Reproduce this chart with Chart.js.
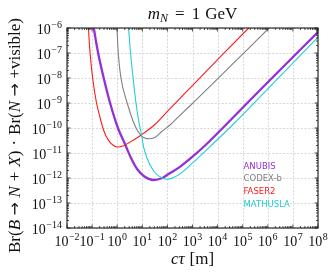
<!DOCTYPE html>
<html>
<head>
<meta charset="utf-8">
<script src="https://cdn.jsdelivr.net/npm/chart.js@4.4.1/dist/chart.umd.min.js"></script>
<style>
  html, body { margin: 0; padding: 0; background: #fff; }
  #wrap { width: 336px; height: 276px; }
</style>
</head>
<body>
<div id="wrap"><canvas id="chart" width="336" height="276"></canvas></div>
<script>
// Axis decades (tick labels are 10^n)
const xDecades = [-2, -1, 0, 1, 2, 3, 4, 5, 6, 7, 8];
const yDecades = [-14, -13, -12, -11, -10, -9, -8, -7, -6];

// Series: c*tau [m] and Br product
const anubisCt = [0.11, 0.117, 0.174, 0.29, 0.52, 1.07, 2.0, 3.55, 6.3, 12.6, 28.2, 63, 100, 316, 1000, 3160, 3.16e4, 1e6, 1e8];
const anubisBr = [1.6e-6, 1e-6, 1e-7, 1e-8, 1e-9, 1e-10, 2.4e-11, 6.3e-12, 2.24e-12, 1.12e-12, 8.3e-13, 1.0e-12, 1.35e-12, 2.8e-12, 7.1e-12, 2.0e-11, 2.0e-10, 6.8e-9, 6.9e-7];

const codexCt = [0.955, 0.98, 1.1, 1.41, 2.5, 4.2, 6.0, 8.9, 12.6, 18.6, 31.6, 63, 132, 316, 760, 1e4, 1e5, 1.12e6, 2.0e6];
const codexBr = [1.6e-6, 1e-6, 1e-7, 1e-8, 1e-9, 2.0e-10, 8.9e-11, 5.0e-11, 4.0e-11, 3.7e-11, 4.2e-11, 7.6e-11, 1.35e-10, 3.2e-10, 7.4e-10, 9.3e-9, 9.1e-8, 1e-6, 1.8e-6];

const faserCt = [0.068, 0.071, 0.083, 0.105, 0.15, 0.21, 0.27, 0.35, 0.5, 0.71, 1.0, 1.78, 3.16, 5.6, 10, 31.6, 100, 1000, 1e4, 1.74e5, 3.16e5];
const faserBr = [1.6e-6, 1e-6, 1e-7, 1e-8, 1e-9, 2.5e-10, 1e-10, 5.0e-11, 2.8e-11, 2.0e-11, 1.74e-11, 1.95e-11, 2.7e-11, 3.8e-11, 5.6e-11, 1.38e-10, 4.6e-10, 5.0e-9, 5.4e-8, 1e-6, 1.8e-6];

const mathuslaCt = [2.63, 2.82, 3.4, 4.3, 5.6, 7.6, 9.3, 11.2, 15.5, 22.4, 31.6, 52.5, 93, 178, 331, 1000, 3160, 4.0e4, 1e6, 1e8];
const mathuslaBr = [1.6e-6, 1e-6, 1e-7, 1e-8, 1e-9, 1.4e-10, 5.4e-11, 1.8e-11, 6.3e-12, 2.8e-12, 1.66e-12, 1.1e-12, 8.9e-13, 1.05e-12, 1.5e-12, 4.0e-12, 1.17e-11, 1.35e-10, 3.7e-9, 4.3e-7];

const seriesNames = ['ANUBIS', 'CODEX-b', 'FASER2', 'MATHUSLA'];
const seriesColors = ['#9431d4', '#808080', '#ff1a1a', '#1fd0d3'];

const SERIF = '"Liberation Serif", "DejaVu Serif", serif';

function toPoints(xs, ys) {
    return xs.map((x, i) => ({ x: x, y: ys[i] }));
}

function fontOf(size, italic, family) {
    return (italic ? 'italic ' : '') + size + 'px ' + (family || SERIF);
}

// draw a row of text pieces centred on x (pieces may be italic / shifted)
function drawRuns(ctx, runs, x, y) {
    let w = 0;
    runs.forEach(r => {
        ctx.font = fontOf(r.s || 17, r.i, r.f);
        r.w = ctx.measureText(r.t).width;
        w += r.w + (r.gap || 0);
    });
    let cx = x - w / 2;
    ctx.textAlign = 'left';
    ctx.textBaseline = 'alphabetic';
    runs.forEach(r => {
        ctx.font = fontOf(r.s || 17, r.i, r.f);
        ctx.fillText(r.t, cx, y + (r.dy || 0));
        cx += r.w + (r.gap || 0);
    });
}

function expText(n) {
    return n < 0 ? '\u2212' + Math.abs(n) : String(n);
}

// "10^n" tick label
function drawPow(ctx, n, x, y, align) {
    ctx.textBaseline = 'alphabetic';
    ctx.textAlign = 'left';
    ctx.font = fontOf(14, false);
    const wb = ctx.measureText('10').width;
    ctx.font = fontOf(10, false);
    const e = expText(n);
    const we = ctx.measureText(e).width;
    const total = wb + we + 0.5;
    const x0 = align === 'right' ? x - total : x - total / 2;
    ctx.font = fontOf(14, false);
    ctx.fillText('10', x0, y);
    ctx.font = fontOf(10, false);
    ctx.fillText(e, x0 + wb + 0.5, y - 6);
}

const ARROW = '"DejaVu Sans", sans-serif';

const framePlugin = {
    id: 'frame',
    beforeDatasetsDraw(chart) {
        const { ctx, chartArea: a, scales } = chart;
        ctx.save();
        ctx.strokeStyle = '#cdcdcd';
        ctx.lineWidth = 0.8;
        ctx.setLineDash([2, 1.6]);
        ctx.beginPath();
        xDecades.forEach(d => {
            const px = Math.round(scales.x.getPixelForValue(Math.pow(10, d))) + 0.5;
            ctx.moveTo(px, a.top); ctx.lineTo(px, a.bottom);
        });
        yDecades.forEach(d => {
            const py = Math.round(scales.y.getPixelForValue(Math.pow(10, d))) + 0.5;
            ctx.moveTo(a.left, py); ctx.lineTo(a.right, py);
        });
        ctx.stroke();
        ctx.restore();
    },
    afterDatasetsDraw(chart) {
        const { ctx, chartArea: a, scales } = chart;
        ctx.save();
        ctx.strokeStyle = '#222';
        ctx.lineWidth = 0.8;
        ctx.beginPath();
        const tickX = (v, len) => {
            const px = scales.x.getPixelForValue(v);
            ctx.moveTo(px, a.bottom); ctx.lineTo(px, a.bottom - len);
            ctx.moveTo(px, a.top); ctx.lineTo(px, a.top + len);
        };
        const tickY = (v, len) => {
            const py = scales.y.getPixelForValue(v);
            ctx.moveTo(a.left, py); ctx.lineTo(a.left + len, py);
            ctx.moveTo(a.right, py); ctx.lineTo(a.right - len, py);
        };
        xDecades.forEach((d, i) => {
            tickX(Math.pow(10, d), 3.5);
            if (i < xDecades.length - 1) {
                for (let k = 2; k < 10; k++) tickX(k * Math.pow(10, d), 2);
            }
        });
        yDecades.forEach((d, i) => {
            tickY(Math.pow(10, d), 3.5);
            if (i < yDecades.length - 1) {
                for (let k = 2; k < 10; k++) tickY(k * Math.pow(10, d), 2);
            }
        });
        ctx.stroke();

        ctx.lineWidth = 1.1;
        ctx.strokeStyle = '#1a1a1a';
        ctx.strokeRect(a.left, a.top, a.right - a.left, a.bottom - a.top);

        // tick labels
        ctx.fillStyle = '#111';
        xDecades.forEach(d => {
            drawPow(ctx, d, scales.x.getPixelForValue(Math.pow(10, d)), a.bottom + 18, 'center');
        });
        yDecades.forEach(d => {
            drawPow(ctx, d, a.left - 5, scales.y.getPixelForValue(Math.pow(10, d)) + 5.5, 'right');
        });

        // title
        const cx = (a.left + a.right) / 2;
        drawRuns(ctx, [
            { t: 'm', i: true },
            { t: 'N', i: true, s: 12, dy: 3, gap: 7 },
            { t: '=', gap: 7 },
            { t: '1', gap: 5 },
            { t: 'GeV' }
        ], cx, 18.5);

        // x label
        drawRuns(ctx, [
            { t: 'c', i: true },
            { t: '\u03c4', i: true, gap: 5 },
            { t: '[m]' }
        ], cx, 264);

        // y label
        ctx.save();
        ctx.translate(20, 135.5);
        ctx.rotate(-Math.PI / 2);
        drawRuns(ctx, [
            { t: 'Br(' },
            { t: 'B', i: true, gap: 4.5 },
            { t: '\u2192', f: ARROW, s: 16, dy: -0.5, gap: 4.5 },
            { t: 'N', i: true, gap: 5 },
            { t: '+', gap: 5 },
            { t: 'X', i: true },
            { t: ')', gap: 5 },
            { t: '\u00b7', gap: 5 },
            { t: 'Br(' },
            { t: 'N', i: true, gap: 4.5 },
            { t: '\u2192', f: ARROW, s: 16, dy: -0.5, gap: 4.5 },
            { t: '+visible)' }
        ], 0, 0);
        ctx.restore();

        // legend: coloured names only
        ctx.font = '8.5px "DejaVu Sans", sans-serif';
        ctx.textAlign = 'left';
        ctx.textBaseline = 'alphabetic';
        chart.data.datasets.forEach((ds, i) => {
            ctx.fillStyle = ds.borderColor;
            ctx.fillText(ds.label, a.right - 74.5, a.bottom - 59.5 + i * 12.7);
        });
        ctx.restore();
    }
};

const ctx = document.getElementById('chart').getContext('2d');
const seriesData = [
    toPoints(anubisCt, anubisBr),
    toPoints(codexCt, codexBr),
    toPoints(faserCt, faserBr),
    toPoints(mathuslaCt, mathuslaBr)
];
const lineWidths = [2.3, 1.1, 1.1, 1.1];
const drawOrder = [4, 3, 2, 1];

new Chart(ctx, {
    type: 'line',
    data: {
        datasets: seriesNames.map((name, i) => ({
            label: name,
            data: seriesData[i],
            borderColor: seriesColors[i],
            backgroundColor: seriesColors[i],
            borderWidth: lineWidths[i],
            pointRadius: 0,
            fill: false,
            cubicInterpolationMode: 'monotone',
            clip: 0,
            order: drawOrder[i]
        }))
    },
    options: {
        responsive: false,
        animation: false,
        devicePixelRatio: 1,
        parsing: false,
        layout: { padding: { left: 67, top: 28, right: 18, bottom: 48 } },
        plugins: {
            legend: { display: false },
            tooltip: { enabled: false }
        },
        scales: {
            x: {
                type: 'logarithmic',
                display: false,
                min: Math.pow(10, xDecades[0]),
                max: Math.pow(10, xDecades[xDecades.length - 1])
            },
            y: {
                type: 'logarithmic',
                display: false,
                min: Math.pow(10, yDecades[0]),
                max: Math.pow(10, yDecades[yDecades.length - 1])
            }
        }
    },
    plugins: [framePlugin]
});
</script>
</body>
</html>
